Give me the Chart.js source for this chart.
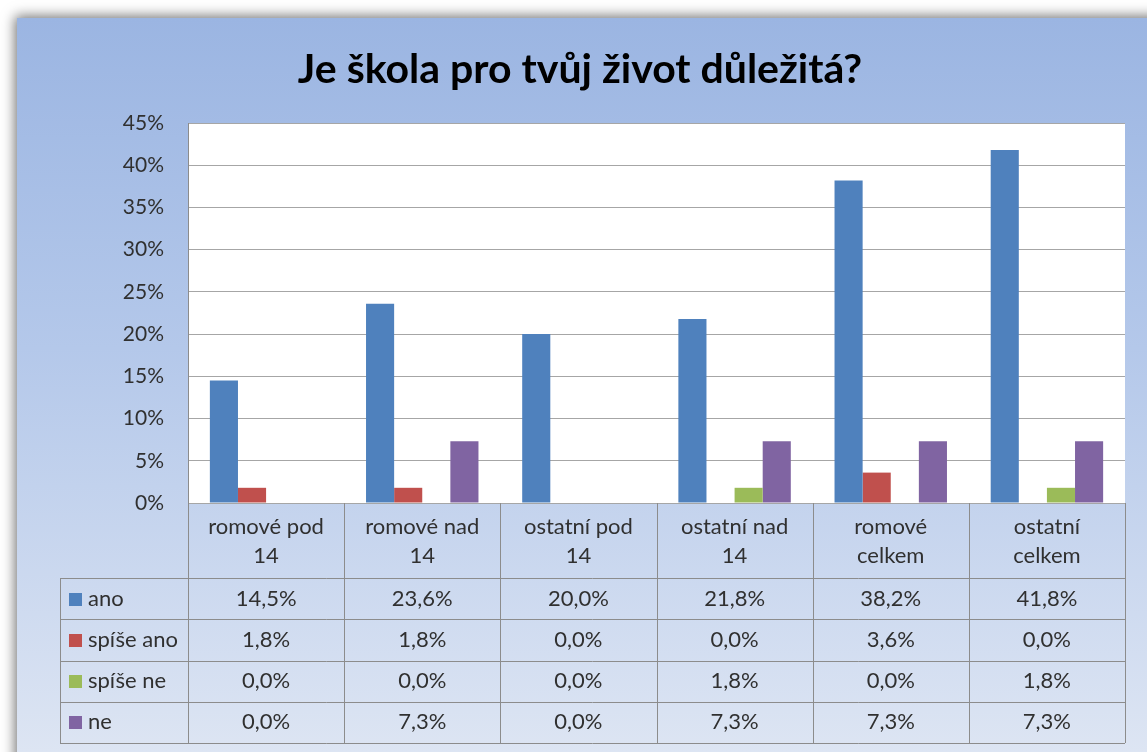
<!DOCTYPE html>
<html><head><meta charset="utf-8">
<script src="https://cdn.jsdelivr.net/npm/chart.js@4/dist/chart.umd.min.js"></script>
<style>html,body{margin:0;padding:0;background:#fff;}#wrap{width:1147px;height:752px;}</style>
</head><body><div id="wrap"><canvas id="c" width="1147" height="752"></canvas></div>
<script>
const titleText = "Je škola pro tvůj život důležitá?";
const categories = [["romové pod","14"],["romové nad","14"],["ostatní pod","14"],["ostatní nad","14"],["romové","celkem"],["ostatní","celkem"]];
const seriesNames = ["ano","spíše ano","spíše ne","ne"];
const ano = [14.5, 23.6, 20.0, 21.8, 38.2, 41.8];
const spiseAno = [1.8, 1.8, 0.0, 0.0, 3.6, 0.0];
const spiseNe = [0.0, 0.0, 0.0, 1.8, 0.0, 1.8];
const ne = [0.0, 7.3, 0.0, 7.3, 7.3, 7.3];
const colors = ["#4F81BD","#C0504D","#9BBB59","#8064A2"];
const yTicks = [0,5,10,15,20,25,30,35,40,45];

const FONT = "Lato, 'Open Sans', sans-serif";
const allSeries = [ano, spiseAno, spiseNe, ne];

const bgPlugin = {
  id: 'bg',
  beforeDraw(chart) {
    const ctx = chart.ctx;
    ctx.save();
    ctx.fillStyle = '#ffffff';
    ctx.fillRect(0,0,chart.width,chart.height);
    ctx.shadowColor = 'rgba(0,0,0,0.55)';
    ctx.shadowBlur = 12;
    ctx.shadowOffsetX = -2; ctx.shadowOffsetY = -2;
    const g = ctx.createLinearGradient(0,18,0,752);
    g.addColorStop(0,'#9BB5E2');
    g.addColorStop(0.45,'#B4C8EA');
    g.addColorStop(1,'#DDE5F3');
    ctx.fillStyle = g;
    ctx.fillRect(17,18,chart.width+40,chart.height+40);
    ctx.restore();
    const a = chart.chartArea;
    ctx.save();
    ctx.fillStyle = '#ffffff';
    ctx.fillRect(a.left,a.top,a.right-a.left,a.bottom-a.top);
    ctx.restore();
    ctx.save();
    ctx.fillStyle = '#000';
    ctx.font = "bold 41px " + FONT;
    ctx.textAlign = 'center';
    ctx.textBaseline = 'middle';
    ctx.fillText(titleText, 580, 70);
    ctx.restore();
  }
};

const tablePlugin = {
  id: 'dtable',
  afterDraw(chart) {
    const ctx = chart.ctx;
    const x = chart.scales.x;
    const a = chart.chartArea;
    const n = categories.length;
    const cw = (x.right - x.left)/n;
    const top = a.bottom;
    const headerH = 75;
    const rowH = 41.25;
    const tableBottom = top + headerH + rowH*seriesNames.length;
    const leftEdge = 60;
    ctx.save();
    ctx.strokeStyle = '#8C8C8C';
    ctx.lineWidth = 1;
    for (let i=0;i<=n;i++){
      const px = Math.round(x.left + cw*i) + 0.5;
      ctx.beginPath(); ctx.moveTo(px, top); ctx.lineTo(px, tableBottom); ctx.stroke();
    }
    ctx.beginPath(); ctx.moveTo(leftEdge+0.5, top+headerH); ctx.lineTo(leftEdge+0.5, tableBottom); ctx.stroke();
    for (let r=0;r<=seriesNames.length;r++){
      const py = Math.round(top + headerH + rowH*r) + 0.5;
      ctx.beginPath(); ctx.moveTo(leftEdge, py); ctx.lineTo(x.right, py); ctx.stroke();
    }
    ctx.fillStyle = '#303030';
    ctx.font = "22px " + FONT;
    ctx.textAlign = 'center';
    ctx.textBaseline = 'middle';
    for (let i=0;i<n;i++){
      const cx = x.getPixelForValue(i);
      ctx.fillText(categories[i][0], cx, top + 24);
      ctx.fillText(categories[i][1], cx, top + 53);
    }
    for (let r=0;r<seriesNames.length;r++){
      const cy = top + headerH + rowH*r + rowH/2;
      ctx.fillStyle = colors[r];
      ctx.fillRect(69, Math.round(cy-6), 13, 13);
      ctx.fillStyle = '#303030';
      ctx.textAlign = 'left';
      ctx.fillText(seriesNames[r], 88, cy);
      ctx.textAlign = 'center';
      for (let i=0;i<n;i++){
        const v = allSeries[r][i].toFixed(1).replace('.', ',') + '%';
        ctx.fillText(v, x.getPixelForValue(i), cy);
      }
    }
    ctx.restore();
  }
};

new Chart(document.getElementById('c'), {
  type: 'bar',
  data: {
    labels: categories,
    datasets: seriesNames.map((name,i)=>({
      label: name,
      data: allSeries[i],
      backgroundColor: colors[i],
      borderWidth: 0,
      categoryPercentage: 0.72,
      barPercentage: 1.0
    }))
  },
  options: {
    responsive: false,
    animation: false,
    layout: { padding: { left: 0, right: 22, top: 123, bottom: 249 } },
    plugins: { legend: { display: false }, title: { display: false }, tooltip: { enabled: false } },
    scales: {
      x: { display: false },
      y: {
        min: 0, max: 45,
        afterFit(s){ s.width = 188; },
        afterBuildTicks(s){ s.ticks = yTicks.map(v=>({value:v})); },
        ticks: { callback: v => v + '%', color: '#303030', font: { family: FONT, size: 21 }, padding: 24 },
        grid: { color: '#A6A6A6', drawTicks: false, lineWidth: 1 },
        border: { display: true, color: '#8C8C8C' }
      }
    }
  },
  plugins: [bgPlugin, tablePlugin]
});
</script>
</body></html>
